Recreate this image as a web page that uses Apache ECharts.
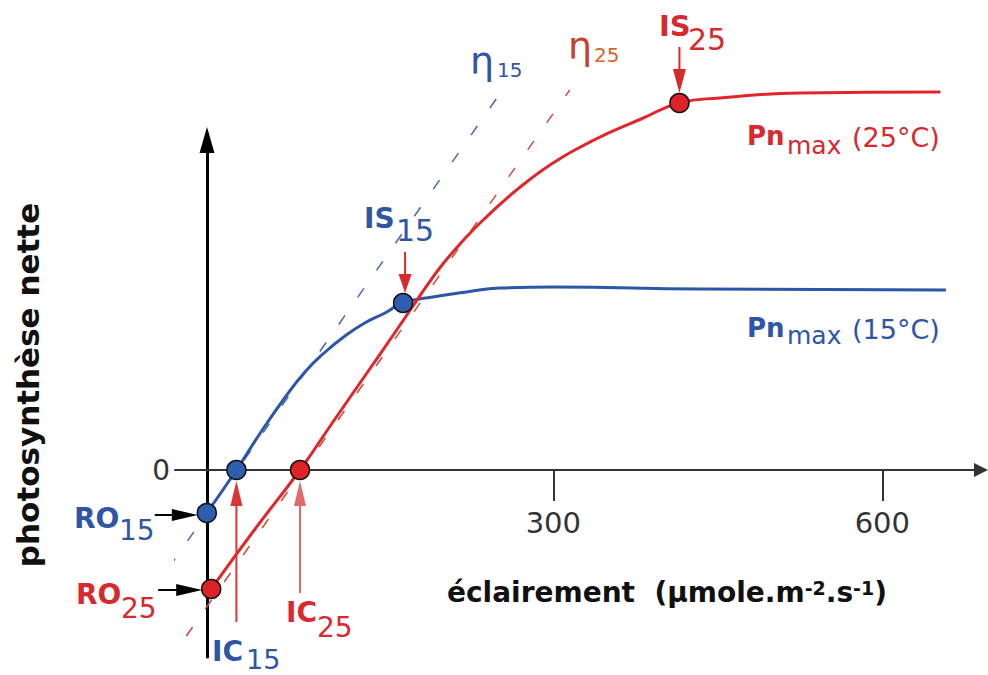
<!DOCTYPE html>
<html><head><meta charset="utf-8">
<script src="https://cdn.jsdelivr.net/npm/echarts@6/dist/echarts.min.js"></script>
<style>html,body{margin:0;padding:0;background:#fff}#c{width:988px;height:675px}</style>
</head><body><div id="c"></div>
<script>
// ---- data (light: µmol·m-2·s-1, net photosynthesis: relative units) ----
const light15 = [-16, 11, 34, 55, 73.5, 92, 110, 128, 146.5, 163, 190, 221, 251, 300, 434, 658];
const pn15    = [-2.15, 0, 1.95, 3.6, 4.9, 5.9, 6.7, 7.35, 7.85, 8.35, 8.65, 8.9, 9.1, 9.15, 9.05, 9.0];
const light25 = [-12, 28, 69, 99, 130, 154, 172, 185, 200, 220, 240, 260, 280, 300, 320, 350, 380, 415, 452, 525, 653];
const pn25    = [-5.95, -2.95, 0, 2.4, 4.85, 6.75, 8.2, 9.24, 10.35, 11.61, 12.71, 13.7, 14.59, 15.36, 16.01, 16.84, 17.55, 18.35, 18.6, 18.85, 18.9];
const eta15X = [-68, 253];
const eta15Y = [-6.25, 18.95];
const eta25X = [-52, 315];
const eta25Y = [-9.65, 19.0];
const key15X = [-16, 11, 163];      // RO15, IC15, IS15
const key15Y = [-2.15, 0, 8.35];
const key25X = [-12, 69, 415];      // RO25, IC25, IS25
const key25Y = [-5.95, 0, 18.35];
const xTicks = [300, 600];
const yTicks = [0];

const FONT = 'DejaVu Sans';
const BLUE = '#2c56a8', RED = '#e0262b';
const BLUE_T = '#2f55a4', RED_T = '#d8292f';

const zip = (a, b) => a.map((v, i) => [v, b[i]]);

const chart = echarts.init(document.getElementById('c'), null, {renderer: 'svg'});
const option = {
  animation: false,
  backgroundColor: '#fff',
  grid: {left: 175, right: 7, top: 140, bottom: 18, containLabel: false, outerBoundsMode: 'none'},
  xAxis: {
    type: 'value', min: -45, max: 690,
    axisLine: {onZero: true, lineStyle: {color: '#333', width: 2}, symbol: ['none', 'triangle'], symbolSize: [14, 14]},
    axisTick: {customValues: xTicks, length: 31, lineStyle: {color: '#333', width: 2}},
    axisLabel: {show: false},
    splitLine: {show: false}
  },
  yAxis: {
    type: 'value', min: -9.35, max: 16.5, offset: -32,
    axisLine: {show: true, onZero: false, lineStyle: {color: '#000', width: 3}, symbol: ['none', 'triangle'], symbolSize: [15, 26]},
    axisTick: {show: false},
    axisLabel: {customValues: yTicks, margin: 37, fontSize: 28, color: '#333', fontFamily: FONT},
    splitLine: {show: false}
  },
  series: [
    {type: 'line', data: zip(eta15X, eta15Y), symbol: 'none', clip: false, z: 2,
     lineStyle: {color: '#4468b4', width: 1.5, type: [11, 22]}},
    {type: 'line', data: zip(eta25X, eta25Y), symbol: 'none', clip: false, z: 2,
     lineStyle: {color: '#cf4a3c', width: 1.5, type: [11, 22]}},
    {type: 'line', data: zip(light15, pn15), symbol: 'none', smooth: 0.5, clip: false, z: 3,
     lineStyle: {color: BLUE, width: 3}},
    {type: 'line', data: zip(light25, pn25), symbol: 'none', smooth: 0.5, clip: false, z: 4,
     lineStyle: {color: RED, width: 3}},
    {type: 'scatter', data: zip(key15X, key15Y), symbolSize: 19, clip: false, z: 6,
     itemStyle: {color: '#2f5db0', borderColor: '#111', borderWidth: 1.5, opacity: 1}},
    {type: 'scatter', data: zip(key25X, key25Y), symbolSize: 19, clip: false, z: 6,
     itemStyle: {color: '#dd2228', borderColor: '#111', borderWidth: 1.5, opacity: 1}}
  ]
};
chart.setOption(option);

const P = (x, y) => chart.convertToPixel({gridIndex: 0}, [x, y]);

function arrow(x1, y1, x2, y2, color, head, hw, lw) {
  const dx = x2 - x1, dy = y2 - y1, L = Math.hypot(dx, dy), ux = dx / L, uy = dy / L;
  const bx = x2 - ux * head, by = y2 - uy * head, px = -uy, py = ux;
  return [
    {type: 'line', silent: true, z: 10, shape: {x1: x1, y1: y1, x2: bx + ux * 2, y2: by + uy * 2}, style: {stroke: color, lineWidth: lw}},
    {type: 'polygon', silent: true, z: 10, shape: {points: [[x2, y2], [bx + px * hw / 2, by + py * hw / 2], [bx - px * hw / 2, by - py * hw / 2]]}, style: {fill: color}}
  ];
}
function txt(s, x, y, size, color, bold, align) {
  return {type: 'text', x: x, y: y, silent: true, z: 20,
    style: {text: s, fontSize: size, fontWeight: bold ? 'bold' : 'normal', fontFamily: FONT, fill: color, align: align || 'left', verticalAlign: 'middle'}};
}

const ro15 = P(key15X[0], key15Y[0]), ic15 = P(key15X[1], key15Y[1]), is15 = P(key15X[2], key15Y[2]);
const ro25 = P(key25X[0], key25Y[0]), ic25 = P(key25X[1], key25Y[1]), is25 = P(key25X[2], key25Y[2]);

const g = [];
// x tick labels, anchored on the axis scale
xTicks.forEach(v => { const p = P(v, 0); g.push(txt(String(v), p[0], p[1] + 53, 29, '#333', false, 'center')); });

g.push(...arrow(is25[0], is25[1] - 56, is25[0], is25[1] - 10, '#d62b2b', 24, 13, 2));
g.push(...arrow(is15[0] + 2, is15[1] - 51, is15[0] + 2, is15[1] - 10, '#d62b2b', 19, 13, 2));
g.push(...arrow(ic15[0], ic15[1] + 152, ic15[0], ic15[1] + 11, '#d33', 25, 12, 2));
g.push(...arrow(ic25[0], ic25[1] + 123, ic25[0], ic25[1] + 11, '#e06a6a', 25, 12, 2));
g.push(...arrow(ro15[0] - 52, ro15[1] + 2, ro15[0] - 9, ro15[1] + 2, '#000', 26, 12, 2));
g.push(...arrow(ro25[0] - 53, ro25[1] + 1, ro25[0] - 9, ro25[1] + 1, '#000', 26, 12, 2));

g.push(txt('η', 470, 61, 38, BLUE_T), txt('15', 497, 69.5, 20, BLUE_T));
g.push(txt('η', 568, 46, 38, '#c8402f'), txt('25', 594, 55, 20, '#d8642a'));
g.push(txt('IS', 659, 26, 29, RED_T, true), txt('25', 688, 39, 30, RED_T));
g.push(txt('IS', 364, 218, 28, BLUE_T, true), txt('15', 396, 230, 30, BLUE_T));
g.push(txt('Pn', 747, 136, 26, RED_T, true), txt('max', 787, 145.5, 25, RED_T), txt('(25°C)', 852, 137, 27, RED_T));
g.push(txt('Pn', 747, 327.5, 26, BLUE_T, true), txt('max', 787, 335.5, 25, BLUE_T), txt('(15°C)', 852, 329, 27, BLUE_T));
g.push(txt('RO', 74, 518.5, 28, BLUE_T, true), txt('15', 119, 530, 28, BLUE_T));
g.push(txt('RO', 76, 594.5, 28, RED_T, true), txt('25', 121, 608.5, 28, RED_T));
g.push(txt('IC', 212, 651, 28, BLUE_T, true), txt('15', 246, 659, 27, BLUE_T));
g.push(txt('IC', 286, 612.5, 28, RED_T, true), txt('25', 317, 627, 28, RED_T));

// axis titles
g.push({type: 'text', x: 447, y: 592, silent: true, z: 20,
  style: {text: 'éclairement  (µmole.m{sup|-2}.s{sup|-1})', fontSize: 28, fontWeight: 'bold', fontFamily: FONT, fill: '#111',
    align: 'left', verticalAlign: 'middle',
    rich: {sup: {fontSize: 19, fontWeight: 'bold', fontFamily: FONT, fill: '#111', verticalAlign: 'top'}}}});
g.push({type: 'text', x: 28, y: 385, rotation: Math.PI / 2, silent: true, z: 20,
  style: {text: 'photosynthèse nette', fontSize: 31, fontWeight: 'bold', fontFamily: FONT, fill: '#111', align: 'center', verticalAlign: 'middle'}});

chart.setOption({graphic: {elements: g}});
</script>
</body></html>
